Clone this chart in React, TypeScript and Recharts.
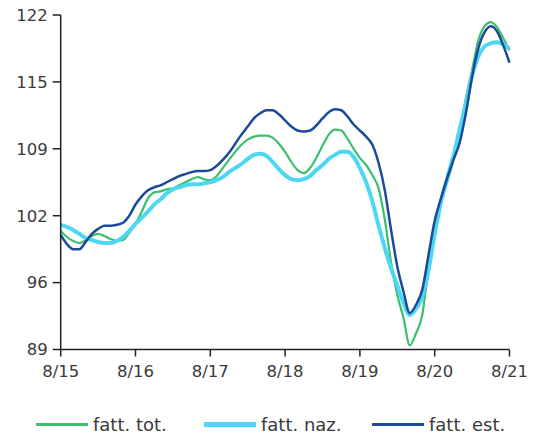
import { LineChart, Line, XAxis, YAxis } from "recharts";

// monthly index values, Aug 2015 .. Aug 2021
const tot = [
  100.7, 100.1, 99.7, 99.5, 99.8, 100.2, 100.4, 100.2, 99.9, 99.7, 99.8, 100.5,
  101.4, 102.6, 103.9, 104.5, 104.6, 104.8, 104.9, 105.2, 105.5, 105.8, 106.0, 105.8,
  105.7, 106.1, 106.9, 107.7, 108.5, 109.2, 109.7, 110.0, 110.1, 110.1, 109.9, 109.3,
  108.5, 107.5, 106.7, 106.4, 106.9, 107.9, 109.1, 110.2, 110.7, 110.6, 109.8, 108.8,
  107.9, 107.2, 106.2, 104.9, 101.8, 97.6, 94.4, 92.1, 89.4, 90.6, 92.4, 97.0,
  101.3, 103.5, 105.5, 107.7, 110.7, 113.8, 116.6, 119.5, 120.9, 121.3, 120.8, 119.7,
  118.5,
];
const naz = [
  101.3, 101.1, 100.8, 100.4, 100.0, 99.8, 99.6, 99.5, 99.5, 99.7, 100.1, 100.7,
  101.4, 102.0, 102.6, 103.3, 103.8, 104.4, 104.8, 105.0, 105.2, 105.3, 105.3, 105.4,
  105.5, 105.7, 106.0, 106.5, 106.9, 107.3, 107.8, 108.2, 108.3, 108.1, 107.5, 106.8,
  106.2, 105.8, 105.7, 105.8, 106.1, 106.7, 107.2, 107.8, 108.2, 108.5, 108.5, 108.0,
  106.9, 105.5, 103.6, 101.2, 99.0, 97.0, 95.3, 93.6, 92.4, 93.0, 94.2, 96.8,
  100.4, 103.5, 105.9, 108.1, 110.7, 113.2, 116.0, 117.9, 118.9, 119.2, 119.3, 119.1,
  118.7,
];
const est = [
  100.3, 99.4, 98.9, 98.9, 99.6, 100.4, 100.9, 101.2, 101.2, 101.3, 101.5, 102.2,
  103.3, 104.1, 104.7, 105.0, 105.2, 105.5, 105.8, 106.1, 106.3, 106.5, 106.6, 106.6,
  106.7, 107.1, 107.7, 108.4, 109.3, 110.2, 111.0, 111.8, 112.3, 112.6, 112.6, 112.2,
  111.6, 111.0, 110.6, 110.5, 110.6, 111.1, 111.8, 112.4, 112.7, 112.6, 112.0, 111.2,
  110.6, 110.0, 109.2, 107.4, 104.7, 100.8, 97.2, 94.7, 92.6, 93.4, 94.9, 98.3,
  101.7, 103.9, 105.9, 107.7, 109.4, 112.3, 115.9, 118.7, 120.3, 120.9, 120.4, 119.0,
  117.3,
];
const xLabels = ["8/15", "8/16", "8/17", "8/18", "8/19", "8/20", "8/21"];
const yTicks = [89, 95.6, 102.2, 108.8, 115.4, 122];

const names = ["fatt. tot.", "fatt. naz.", "fatt. est."];
const colors = ["#3cbf6e", "#4dd7f3", "#1c4a9a"];
const widths = [2.2, 4, 2.5];

const data = tot.map((v, i) => ({ m: i, tot: v, naz: naz[i], est: est[i] }));

const tickStyle = { fill: "#3a3a3a", fontSize: 16.5, fontFamily: "DejaVu Sans" };

export default function App() {
  return (
    <div style={{ position: "absolute", left: 0, top: 0, width: 533, height: 436, background: "#fff" }}>
      <LineChart width={533} height={436} data={data} margin={{ top: 15, right: 23.5, left: 0, bottom: 46.5 }}>
        <XAxis
          type="number"
          dataKey="m"
          domain={[0, 72]}
          ticks={[0, 12, 24, 36, 48, 60, 72]}
          tickFormatter={(v) => xLabels[v / 12]}
          height={40}
          tickSize={7}
          tickMargin={9}
          stroke="#222"
          strokeWidth={1.5}
          tick={tickStyle}
        />
        <YAxis
          domain={[89, 122]}
          ticks={yTicks}
          tickFormatter={(v) => String(Math.round(v))}
          width={60.7}
          tickSize={8}
          tickMargin={5}
          stroke="#222"
          strokeWidth={1.5}
          tick={tickStyle}
          allowDataOverflow
        />
        <Line type="monotone" dataKey="tot" stroke={colors[0]} strokeWidth={widths[0]} dot={false} isAnimationActive={false} />
        <Line type="monotone" dataKey="naz" stroke={colors[1]} strokeWidth={widths[1]} dot={false} isAnimationActive={false} />
        <Line type="monotone" dataKey="est" stroke={colors[2]} strokeWidth={widths[2]} dot={false} isAnimationActive={false} />
      </LineChart>
      <div style={{ position: "absolute", top: 414, left: 36, display: "flex", fontFamily: "DejaVu Sans", fontSize: 18, color: "#3a3a3a" }}>
        {names.map((n, i) => (
          <div key={n} style={{ display: "flex", alignItems: "center", width: 168 }}>
            <span style={{ display: "inline-block", width: 52, height: widths[i] + 1, background: colors[i], marginRight: 5 }} />
            <span>{n}</span>
          </div>
        ))}
      </div>
    </div>
  );
}
